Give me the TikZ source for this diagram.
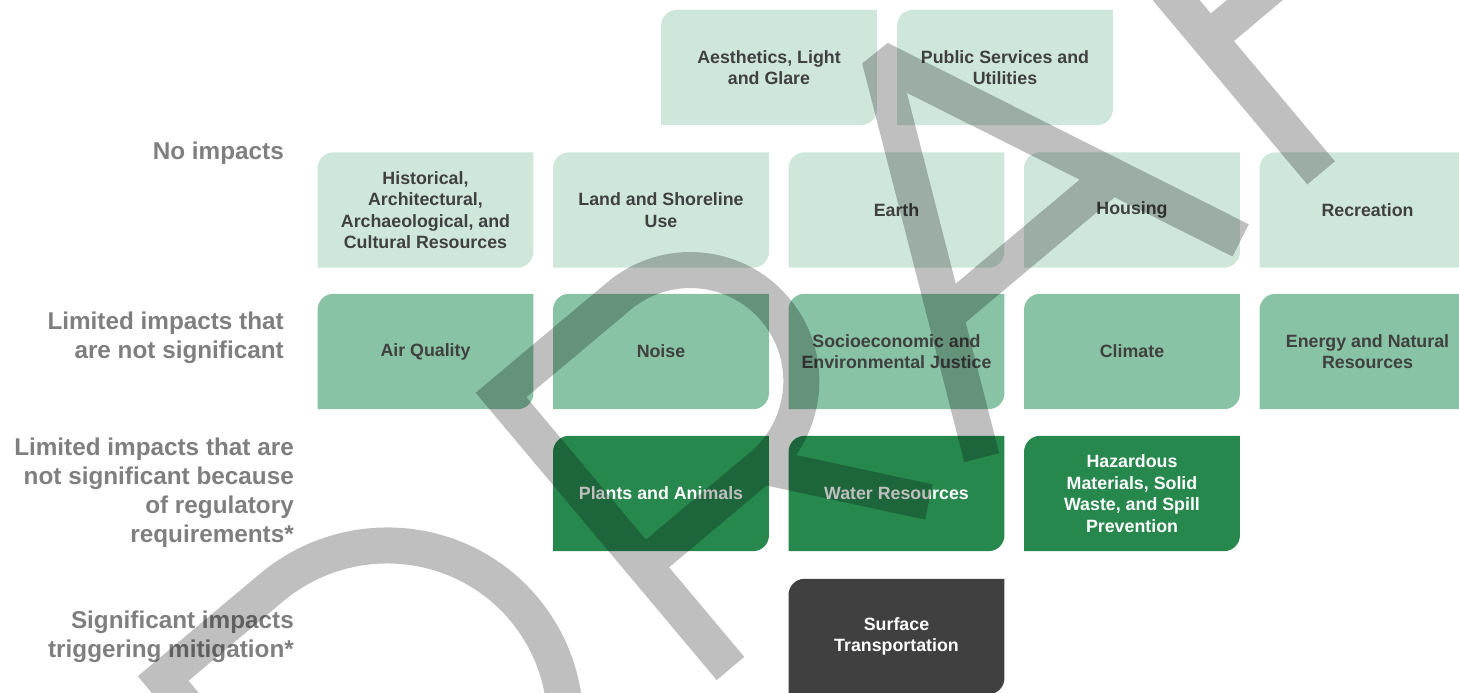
\documentclass[tikz,border=0pt]{standalone}
\usepackage{fontspec}
\setmainfont{Liberation Sans}
\usetikzlibrary{backgrounds}

\definecolor{lightgreen}{HTML}{CFE7DB}
\definecolor{midgreen}{HTML}{88C3A5}
\definecolor{darkgreen}{HTML}{27884E}
\definecolor{boxgray}{HTML}{404040}
\definecolor{textgray}{HTML}{404040}
\definecolor{labelgray}{HTML}{7F7F7F}

\begin{document}
\begin{tikzpicture}[x=1pt, y=1pt,
    box/.style={minimum width=215.5pt, minimum height=115pt, inner sep=0pt, align=center,
      font=\fontsize{17.8}{21.5}\selectfont\bfseries},
    lighttext/.style={box, text=textgray},
    darktext/.style={box, text=white},
    lbl/.style={anchor=east, align=right, inner sep=0pt, text=labelgray,
      font=\fontsize{24.3}{29}\selectfont\bfseries},
    wmark/.style={draw=black, draw opacity=0.25, line width=36pt}]

    % page
    \useasboundingbox (0,0) rectangle (1459,-693);
    \clip (0,0) rectangle (1459,-693);

    % draw row labels
    \node[lbl] (lblnone) at (284,-153) {No impacts};
    \node[lbl] (lbllim) at (284,-337.5) {Limited impacts that\\are not significant};
    \node[lbl] (lblreg) at (294,-492.5) {Limited impacts that are\\not significant because\\of regulatory\\requirements*};
    \node[lbl] (lblsig) at (294,-636.5) {Significant impacts\\triggering mitigation*};

    % draw boxes: no impacts
    \node[lighttext] (aesth) at (769,-67.5) {Aesthetics, Light\\and Glare};
    \node[lighttext] (pubserv) at (1005,-67.5) {Public Services and\\Utilities};
    \node[lighttext] (hist) at (425.5,-210) {Historical,\\Architectural,\\Archaeological, and\\Cultural Resources};
    \node[lighttext] (land) at (661,-210) {Land and Shoreline\\Use};
    \node[lighttext] (earth) at (896.5,-210) {Earth};
    \node[lighttext] (housing) at (1132,-210) {Housing};
    \node[lighttext] (recr) at (1367.5,-210) {Recreation};

    % draw boxes: limited impacts
    \node[lighttext] (airq) at (425.5,-351.5) {Air Quality};
    \node[lighttext] (noise) at (661,-351.5) {Noise};
    \node[lighttext] (socio) at (896.5,-351.5) {Socioeconomic and\\Environmental Justice};
    \node[lighttext] (climate) at (1132,-351.5) {Climate};
    \node[lighttext] (energy) at (1367.5,-351.5) {Energy and Natural\\Resources};

    % draw boxes: regulatory requirements
    \node[darktext] (plants) at (661,-493.5) {Plants and Animals};
    \node[darktext] (water) at (896.5,-493.5) {Water Resources};
    \node[darktext] (hazard) at (1132,-493.5) {Hazardous\\Materials, Solid\\Waste, and Spill\\Prevention};

    % draw boxes: mitigation
    \node[darktext] (surface) at (896.5,-636.5) {Surface\\Transportation};

    % fill boxes (rounded top left and bottom right)
    \begin{scope}[on background layer]
      \foreach \n/\c in {aesth/lightgreen, pubserv/lightgreen, hist/lightgreen, land/lightgreen,
          earth/lightgreen, housing/lightgreen, recr/lightgreen, airq/midgreen, noise/midgreen,
          socio/midgreen, climate/midgreen, energy/midgreen, plants/darkgreen, water/darkgreen,
          hazard/darkgreen, surface/boxgray}
        \fill[\c] (\n.south west) -- ([yshift=-16pt]\n.north west)
          arc[start angle=180, end angle=90, radius=16] -- (\n.north east)
          -- ([yshift=16pt]\n.south east) arc[start angle=0, end angle=-90, radius=16] -- cycle;
    \end{scope}

    % draft watermark
    \begin{scope}[shift={(501,-395)}, rotate=40]
      \draw[wmark, line join=miter] (-441,0) -- (-300,0)
        arc[start angle=90, end angle=-90, x radius=180, y radius=178.5] -- (-441,-357) -- cycle;
      \draw[wmark, line join=miter] (0,-357) -- (0,0) -- (154,0)
        arc[start angle=90, end angle=-90, radius=111] -- (0,-222) (154,-222) -- (259,-357);
      \draw[wmark, line join=bevel] (328,-357) -- (506,14) -- (666,-357) (393,-225) -- (609,-225);
      \draw[wmark, line join=miter] (980,0) -- (771,0) -- (771,-357) (771,-182) -- (940,-182);
    \end{scope}

\end{tikzpicture}
\end{document}
